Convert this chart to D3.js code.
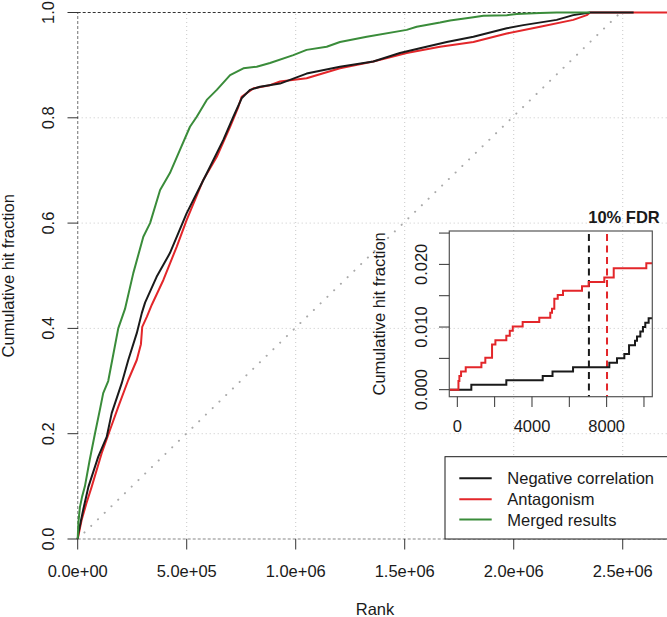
<!DOCTYPE html>
<html>
<head>
<meta charset="utf-8">
<script src="https://cdn.jsdelivr.net/npm/d3@7"></script>
<style>
html,body{margin:0;padding:0;background:#fff;}
svg{display:block;font-family:"Liberation Sans",Arial,Helvetica,sans-serif;}
</style>
</head>
<body>
<svg id="chart" width="667" height="617"></svg>
<script>
// ---------- data ----------
const seriesNames = ["Negative correlation", "Antagonism", "Merged results"];
const seriesColors = ["#1a1a1a", "#e3262a", "#3a8c3a"];

// main panel: rank vs cumulative hit fraction
const blackRank = [0, 3e3, 25e3, 49e3, 94e3, 133e3, 156e3, 202e3, 232e3, 271e3, 294e3, 309e3, 362e3, 423e3, 500e3, 561e3, 607e3, 668e3, 714e3, 752e3, 790e3, 836e3, 928e3, 1050e3, 1203e3, 1356e3, 1478e3, 1570e3, 1693e3, 1815e3, 1968e3, 2044e3, 2197e3, 2273e3, 2350e3, 2550e3];
const blackFrac = [0, 0.011, 0.055, 0.099, 0.156, 0.194, 0.239, 0.296, 0.340, 0.391, 0.429, 0.449, 0.498, 0.543, 0.619, 0.669, 0.707, 0.758, 0.802, 0.837, 0.853, 0.859, 0.865, 0.884, 0.897, 0.907, 0.923, 0.932, 0.944, 0.954, 0.970, 0.976, 0.986, 0.995, 1.0, 1.0];

const redRank = [0, 18e3, 40e3, 64e3, 110e3, 148e3, 186e3, 232e3, 271e3, 290e3, 296e3, 317e3, 340e3, 393e3, 454e3, 500e3, 576e3, 638e3, 699e3, 737e3, 752e3, 806e3, 882e3, 928e3, 1050e3, 1203e3, 1356e3, 1509e3, 1662e3, 1815e3, 1968e3, 2121e3, 2273e3, 2335e3, 2350e3, 2760e3];
const redFrac = [0, 0.036, 0.068, 0.099, 0.163, 0.207, 0.251, 0.302, 0.340, 0.370, 0.403, 0.422, 0.445, 0.492, 0.555, 0.606, 0.682, 0.726, 0.783, 0.821, 0.840, 0.856, 0.862, 0.869, 0.875, 0.894, 0.907, 0.923, 0.935, 0.944, 0.960, 0.973, 0.986, 0.995, 1.0, 1.0];

const greenRank = [0, 3e3, 10e3, 20e3, 33e3, 55e3, 79e3, 104e3, 117e3, 140e3, 163e3, 186e3, 217e3, 255e3, 301e3, 332e3, 378e3, 423e3, 469e3, 515e3, 546e3, 592e3, 638e3, 699e3, 760e3, 821e3, 882e3, 989e3, 1050e3, 1142e3, 1203e3, 1326e3, 1509e3, 1555e3, 1662e3, 1708e3, 1815e3, 1861e3, 1968e3, 2014e3, 2121e3, 2197e3, 2350e3];
const greenFrac = [0, 0.03, 0.06, 0.08, 0.10, 0.15, 0.20, 0.25, 0.277, 0.30, 0.35, 0.40, 0.437, 0.505, 0.574, 0.600, 0.663, 0.695, 0.739, 0.783, 0.802, 0.834, 0.853, 0.881, 0.894, 0.897, 0.904, 0.919, 0.929, 0.935, 0.944, 0.954, 0.967, 0.973, 0.981, 0.985, 0.991, 0.994, 0.995, 0.997, 0.999, 1.0, 1.0];

const diagRank = [0, 2.49e6];
const diagFrac = [0, 1];

const xTicks = [0, 5e5, 1e6, 1.5e6, 2e6, 2.5e6];
const xTickLabels = ["0.0e+00", "5.0e+05", "1.0e+06", "1.5e+06", "2.0e+06", "2.5e+06"];
const yTicks = [0, 0.2, 0.4, 0.6, 0.8, 1.0];
const yTickLabels = ["0.0", "0.2", "0.4", "0.6", "0.8", "1.0"];

// inset: top ranks (step curves)
const insetBlackRank = [-430, 750, 2625, 4575, 5100, 6200, 8143, 8555, 8948, 9200, 9520, 9625, 9805, 9945, 10070, 10250, 10446];
const insetBlackFrac = [0, 0.0008, 0.0015, 0.0022, 0.0029, 0.0036, 0.0043, 0.0050, 0.0057, 0.0071, 0.0078, 0.0085, 0.0093, 0.0100, 0.0107, 0.0114, 0.0114];
const insetRedRank = [-430, 60, 110, 200, 450, 1290, 1500, 1860, 2040, 2625, 2810, 2970, 3500, 4390, 4980, 5073, 5196, 5379, 5663, 6681, 7039, 7875, 8379, 10125, 10446];
const insetRedFrac = [0, 0.0014, 0.0022, 0.0029, 0.0036, 0.0043, 0.0051, 0.0072, 0.0079, 0.0086, 0.0094, 0.0101, 0.0108, 0.0115, 0.0123, 0.0129, 0.0145, 0.0151, 0.0158, 0.0165, 0.0172, 0.0179, 0.0194, 0.0202, 0.0202];
const fdrRanks = [7050, 8020];
const fdrColors = ["#1a1a1a", "#e3262a"];
const insetXTicks = [0, 2000, 4000, 6000, 8000, 10000];
const insetXLabels = ["0", "", "4000", "", "8000", ""];
const insetYTicks = [0, 0.005, 0.010, 0.015, 0.020, 0.025];
const insetYLabels = ["0.000", "", "0.010", "", "0.020", ""];

// ---------- drawing ----------
const svg = d3.select("#chart");
const FS = 16.5;
const txt = "#1a1a1a";

const x = d3.scaleLinear().domain([0, 2.726e6]).range([77.7, 672]);
const y = d3.scaleLinear().domain([0, 1]).range([539, 12.5]);

// grid
const grid = svg.append("g");
grid.selectAll(".gx").data(xTicks.slice(1)).join("line")
  .attr("x1", d => x(d)).attr("x2", d => x(d)).attr("y1", y(0)).attr("y2", y(1))
  .attr("stroke", "#c8c8c8").attr("stroke-width", 1).attr("stroke-dasharray", "1,3");
grid.selectAll(".gy").data(yTicks.slice(1, -1)).join("line")
  .attr("x1", x(0)).attr("x2", 672).attr("y1", d => y(d)).attr("y2", d => y(d))
  .attr("stroke", "#c8c8c8").attr("stroke-width", 1).attr("stroke-dasharray", "1,3");

// reference lines at 0 and 1
svg.append("line").attr("x1", x(0)).attr("x2", 672).attr("y1", y(1)).attr("y2", y(1))
  .attr("stroke", "#333").attr("stroke-width", 1).attr("stroke-dasharray", "3,2");
svg.append("line").attr("x1", x(0)).attr("x2", 672).attr("y1", y(0)).attr("y2", y(0))
  .attr("stroke", "#888").attr("stroke-width", 1.2).attr("stroke-dasharray", "3,2");
svg.append("line").attr("x1", x(0)).attr("x2", x(0)).attr("y1", y(0)).attr("y2", y(1))
  .attr("stroke", "#888").attr("stroke-width", 1.2).attr("stroke-dasharray", "3,2");

// diagonal
const diag = diagRank.map((r, i) => [r, diagFrac[i]]);
svg.append("path").datum(diag)
  .attr("d", d3.line().x(d => x(d[0])).y(d => y(d[1])))
  .attr("fill", "none").attr("stroke", "#aaa").attr("stroke-width", 2)
  .attr("stroke-linecap", "round").attr("stroke-dasharray", "0.1,9.3");

// curves (drawing order: red, black, green)
svg.append("clipPath").attr("id", "mainclip").append("rect")
  .attr("x", 70).attr("y", 5).attr("width", 610).attr("height", 540);
const line = d3.line().x(d => x(d[0])).y(d => y(d[1]));
const curves = [
  {r: redRank, f: redFrac, c: seriesColors[1]},
  {r: blackRank, f: blackFrac, c: seriesColors[0]},
  {r: greenRank, f: greenFrac, c: seriesColors[2]}
];
curves.forEach(s => {
  svg.append("path").datum(s.r.map((v, i) => [v, s.f[i]]))
    .attr("d", line).attr("fill", "none").attr("stroke", s.c)
    .attr("stroke-width", 2).attr("stroke-linejoin", "round")
    .attr("clip-path", "url(#mainclip)");
});

// axes
const tickCol = "#333";
svg.selectAll(".xt").data(xTicks).join("line")
  .attr("x1", d => x(d)).attr("x2", d => x(d)).attr("y1", 539).attr("y2", 549.5)
  .attr("stroke", tickCol).attr("stroke-width", 1);
svg.selectAll(".xl").data(xTicks).join("text")
  .attr("x", d => x(d)).attr("y", 576.7).attr("text-anchor", "middle")
  .attr("font-size", FS).attr("fill", txt).text((d, i) => xTickLabels[i]);
svg.selectAll(".yt").data(yTicks).join("line")
  .attr("x1", 67.5).attr("x2", 78).attr("y1", d => y(d)).attr("y2", d => y(d))
  .attr("stroke", tickCol).attr("stroke-width", 1);
svg.selectAll(".yl").data(yTicks).join("text")
  .attr("transform", d => `translate(53.5,${y(d)}) rotate(-90)`)
  .attr("text-anchor", "middle").attr("font-size", FS).attr("fill", txt)
  .text((d, i) => yTickLabels[i]);

svg.append("text").attr("x", 375).attr("y", 614.5).attr("text-anchor", "middle")
  .attr("font-size", FS).attr("fill", txt).text("Rank");
svg.append("text").attr("transform", `translate(13.5,${(y(0) + y(1)) / 2}) rotate(-90)`)
  .attr("text-anchor", "middle").attr("font-size", FS).attr("fill", txt)
  .text("Cumulative hit fraction");

// ---------- inset ----------
const ix = d3.scaleLinear().domain([-430, 10446]).range([449.3, 652.3]);
const iy = d3.scaleLinear().domain([-0.00112, 0.02533]).range([396.7, 231]);

svg.append("clipPath").attr("id", "insetclip").append("rect")
  .attr("x", 449.3).attr("y", 231).attr("width", 203).attr("height", 165.7);

// FDR dashed lines
svg.selectAll(".fdr").data(fdrRanks).join("line")
  .attr("x1", d => ix(d)).attr("x2", d => ix(d)).attr("y1", 234).attr("y2", 396.7)
  .attr("stroke", (d, i) => fdrColors[i]).attr("stroke-width", 2)
  .attr("stroke-dasharray", "7,4.5");

const sline = d3.line().curve(d3.curveStepAfter).x(d => ix(d[0])).y(d => iy(d[1]));
[
  {r: insetBlackRank, f: insetBlackFrac, c: seriesColors[0]},
  {r: insetRedRank, f: insetRedFrac, c: seriesColors[1]}
].forEach(s => {
  svg.append("path").datum(s.r.map((v, i) => [v, s.f[i]]))
    .attr("d", sline).attr("fill", "none").attr("stroke", s.c)
    .attr("stroke-width", 2).attr("clip-path", "url(#insetclip)");
});

svg.append("rect").attr("x", 449.3).attr("y", 231).attr("width", 203).attr("height", 165.7)
  .attr("fill", "none").attr("stroke", "#555").attr("stroke-width", 1.2);

svg.selectAll(".ixt").data(insetXTicks).join("line")
  .attr("x1", d => ix(d)).attr("x2", d => ix(d)).attr("y1", 396.7).attr("y2", 407)
  .attr("stroke", tickCol).attr("stroke-width", 1);
svg.selectAll(".ixl").data(insetXTicks).join("text")
  .attr("x", d => ix(d)).attr("y", 431.7).attr("text-anchor", "middle")
  .attr("font-size", FS).attr("fill", txt).text((d, i) => insetXLabels[i]);
svg.selectAll(".iyt").data(insetYTicks).join("line")
  .attr("x1", 439).attr("x2", 449.3).attr("y1", d => iy(d)).attr("y2", d => iy(d))
  .attr("stroke", tickCol).attr("stroke-width", 1);
svg.selectAll(".iyl").data(insetYTicks).join("text")
  .attr("transform", d => `translate(426.7,${iy(d)}) rotate(-90)`)
  .attr("text-anchor", "middle").attr("font-size", FS).attr("fill", txt)
  .text((d, i) => insetYLabels[i]);
svg.append("text").attr("transform", `translate(385,${(231 + 396.7) / 2}) rotate(-90)`)
  .attr("text-anchor", "middle").attr("font-size", FS).attr("fill", txt)
  .text("Cumulative hit fraction");
svg.append("text").attr("x", 624).attr("y", 222.7).attr("text-anchor", "middle")
  .attr("font-size", FS).attr("font-weight", "bold").attr("fill", txt).text("10% FDR");

// ---------- legend ----------
const lg = svg.append("g");
lg.append("rect").attr("x", 445).attr("y", 456.7).attr("width", 240).attr("height", 82.3)
  .attr("fill", "#fff").attr("stroke", "#1a1a1a").attr("stroke-width", 1);
const rowY = [478.3, 499.3, 519.5];
seriesNames.forEach((n, i) => {
  lg.append("line").attr("x1", 459.3).attr("x2", 491.7).attr("y1", rowY[i]).attr("y2", rowY[i])
    .attr("stroke", seriesColors[i]).attr("stroke-width", 2);
  lg.append("text").attr("x", 507.3).attr("y", rowY[i] + 6).attr("font-size", FS)
    .attr("fill", txt).text(n);
});
</script>
</body>
</html>
